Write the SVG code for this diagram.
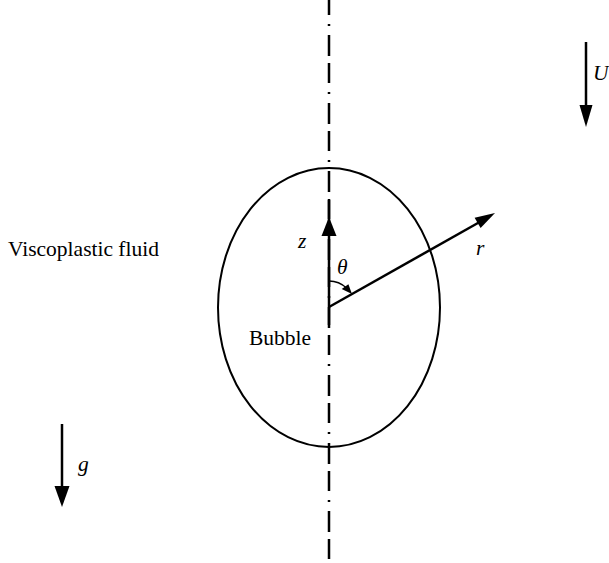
<svg xmlns="http://www.w3.org/2000/svg" width="609" height="563" viewBox="0 0 609 563">
<style>
.ln{stroke:#000;stroke-width:2.5;fill:none}
.hd{fill:#000;stroke:none}
.t{font-family:"Liberation Serif","Times New Roman",serif;font-size:21.5px;fill:#000}
.v{font-style:italic}
</style>
<rect width="609" height="563" fill="#fff"/>
<g id="axis">
<line x1="329" y1="-44" x2="329" y2="563" stroke="#000" stroke-width="2.5" stroke-dasharray="2 9 21 7 20 9"/>
</g>
<g id="bubble">
<ellipse cx="329" cy="307.5" rx="111" ry="139.5" fill="none" stroke="#000" stroke-width="2"/>
<text class="t" x="249" y="345">Bubble</text>
</g>
<g id="fluid">
<text class="t" x="8" y="256">Viscoplastic fluid</text>
</g>
<g id="connectors">
<g id="z-axis">
<line class="ln" x1="329" y1="200" x2="329" y2="325"/>
<polygon class="hd" points="329,217 336.5,236 321.5,236"/>
<text class="t v" x="298" y="248">z</text>
</g>
<g id="r-axis">
<line class="ln" x1="329" y1="307" x2="485" y2="219"/>
<polygon class="hd" points="495,213 480.6,228.1 474.6,217.7"/>
<text class="t v" x="476" y="255">r</text>
</g>
<g id="theta">
<path d="M329,281 A26,26 0 0 1 346.5,288" stroke="#000" stroke-width="1.5" fill="none"/>
<polygon class="hd" points="352,294 341.7,288.9 348.4,284.3"/>
<text class="t v" x="337" y="274">θ</text>
</g>
<g id="U-arrow">
<line class="ln" x1="586" y1="42" x2="586" y2="110"/>
<polygon class="hd" points="586,127 592.5,105 579.5,105"/>
<text class="t v" x="593" y="80">U</text>
</g>
<g id="g-arrow">
<line class="ln" x1="62" y1="424" x2="62" y2="490"/>
<polygon class="hd" points="62,507 69.5,486 54.5,486"/>
<text class="t v" x="78" y="471">g</text>
</g>
</g>
</svg>
